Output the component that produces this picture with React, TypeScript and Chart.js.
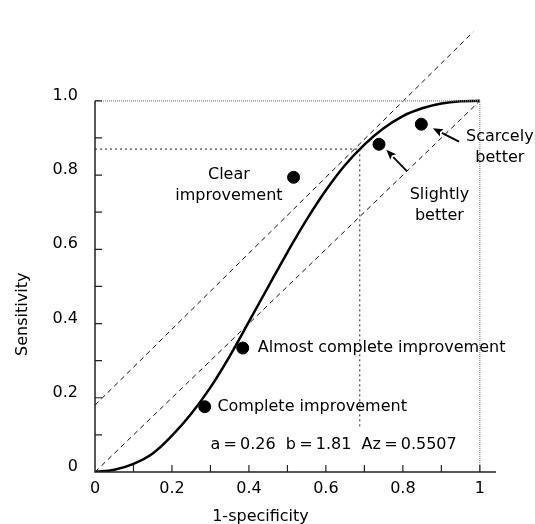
import { useEffect, useRef } from "react";
import { Chart, registerables } from "chart.js";

Chart.register(...registerables);

// ROC curve
const curveX = [0, 0.05, 0.1, 0.15, 0.2, 0.25, 0.3, 0.35, 0.4, 0.45, 0.5, 0.55, 0.6, 0.65, 0.7, 0.75, 0.8, 0.85, 0.9, 0.95, 1.0];
const curveY = [0, 0.006, 0.022, 0.05, 0.098, 0.157, 0.228, 0.312, 0.405, 0.499, 0.592, 0.68, 0.759, 0.827, 0.882, 0.926, 0.959, 0.98, 0.993, 0.999, 1.0];

// reference lines
const diagonalX = [0, 1];
const diagonalY = [0, 1];
const upperLineX = [0, 0.983];
const upperLineY = [0.18, 1.186];
const cutoffX = [0, 0.688, 0.688];
const cutoffY = [0.87, 0.87, 0.117];
const frameX = [0, 1, 1];
const frameY = [1, 1, 0];

// outcome points
const pointNames = ["Complete improvement", "Almost complete improvement", "Clear improvement", "Slightly better", "Scarcely better"];
const pointX = [0.285, 0.384, 0.516, 0.738, 0.848];
const pointY = [0.176, 0.334, 0.794, 0.883, 0.937];

// ticks
const xTicks = [0, 0.2, 0.4, 0.6, 0.8, 1];
const xTickLabels = ["0", "0.2", "0.4", "0.6", "0.8", "1"];
const yTicks = [0, 0.2, 0.4, 0.6, 0.8, 1];
const yTickLabels = ["0", "0.2", "0.4", "0.6", "0.8", "1.0"];
const minorTicks = [0.1, 0.2, 0.3, 0.4, 0.5, 0.6, 0.7, 0.8, 0.9, 1.0];

const xTitle = "1-specificity";
const yTitle = "Sensitivity";
const statsText = "a\u2009=\u20090.26  b\u2009=\u20091.81  Az\u2009=\u20090.5507";

const FONT = "DejaVu Sans";

type Note = { lines: string[]; x: number; y: number; align: CanvasTextAlign };
const notes: Note[] = [
  { lines: [pointNames[0]], x: 0.318, y: 0.176, align: "left" },
  { lines: [pointNames[1]], x: 0.423, y: 0.334, align: "left" },
  { lines: ["Clear", "improvement"], x: 0.348, y: 0.801, align: "center" },
  { lines: ["Slightly", "better"], x: 0.895, y: 0.747, align: "center" },
  { lines: ["Scarcely", "better"], x: 1.052, y: 0.903, align: "center" },
  { lines: [statsText], x: 0.3, y: 0.074, align: "left" },
];

const arrows = [
  { fromX: 0.946, fromY: 0.89, toX: 0.878, toY: 0.926 },
  { fromX: 0.811, fromY: 0.81, toX: 0.757, toY: 0.868 },
];

const toXY = (xs: number[], ys: number[]) => xs.map((x, i) => ({ x, y: ys[i] }));

const decorPlugin = {
  id: "decor",
  afterDatasetsDraw(chart: any) {
    const ctx: CanvasRenderingContext2D = chart.ctx;
    const xs = chart.scales.x;
    const ys = chart.scales.y;
    const px = (v: number) => xs.getPixelForValue(v);
    const py = (v: number) => ys.getPixelForValue(v);
    ctx.save();
    // axes
    ctx.strokeStyle = "#222";
    ctx.lineWidth = 1.5;
    ctx.setLineDash([]);
    ctx.beginPath();
    ctx.moveTo(px(0), py(1));
    ctx.lineTo(px(0), py(0));
    ctx.lineTo(xs.right, py(0));
    ctx.stroke();
    ctx.lineWidth = 1.2;
    ctx.beginPath();
    for (const t of minorTicks) {
      ctx.moveTo(px(t), py(0));
      ctx.lineTo(px(t), py(0) - 7);
      ctx.moveTo(px(0), py(t));
      ctx.lineTo(px(0) + 7, py(t));
    }
    ctx.stroke();

    // arrows
    ctx.strokeStyle = "#000";
    ctx.fillStyle = "#000";
    for (const a of arrows) {
      const x1 = px(a.fromX), y1 = py(a.fromY), x2 = px(a.toX), y2 = py(a.toY);
      const ang = Math.atan2(y2 - y1, x2 - x1);
      const len = 10, hw = 4;
      const bx = x2 - len * Math.cos(ang), by = y2 - len * Math.sin(ang);
      ctx.lineWidth = 1.8;
      ctx.beginPath();
      ctx.moveTo(x1, y1);
      ctx.lineTo(bx, by);
      ctx.stroke();
      ctx.beginPath();
      ctx.moveTo(x2, y2);
      ctx.lineTo(bx - hw * Math.sin(ang), by + hw * Math.cos(ang));
      ctx.lineTo(bx + 2 * Math.cos(ang), by + 2 * Math.sin(ang));
      ctx.lineTo(bx + hw * Math.sin(ang), by - hw * Math.cos(ang));
      ctx.closePath();
      ctx.fill();
    }

    // annotations
    ctx.font = `16px "${FONT}"`;
    ctx.textBaseline = "middle";
    for (const n of notes) {
      ctx.textAlign = n.align;
      n.lines.forEach((line, i) => ctx.fillText(line, px(n.x), py(n.y) + i * 21));
    }

    // axis titles
    ctx.textAlign = "center";
    ctx.textBaseline = "alphabetic";
    ctx.fillText(xTitle, px(0.43), 521);
    ctx.translate(27, py(0.425));
    ctx.rotate(-Math.PI / 2);
    ctx.fillText(yTitle, 0, 0);
    ctx.restore();
  },
};

export default function App() {
  const ref = useRef<HTMLCanvasElement>(null);
  useEffect(() => {
    if (!ref.current) return;
    const tickFont = { family: FONT, size: 16 };
    const chart = new Chart(ref.current, {
      type: "scatter",
      data: {
        datasets: [
          {
            data: toXY(frameX, frameY),
            showLine: true,
            borderColor: "#888",
            borderWidth: 1.2,
            borderDash: [1, 1],
            pointRadius: 0,
          },
          {
            data: toXY(cutoffX, cutoffY),
            showLine: true,
            borderColor: "#222",
            borderWidth: 1,
            borderDash: [2, 3],
            pointRadius: 0,
          },
          {
            data: toXY(diagonalX, diagonalY),
            showLine: true,
            borderColor: "#111",
            borderWidth: 1,
            borderDash: [5, 4],
            pointRadius: 0,
          },
          {
            data: toXY(upperLineX, upperLineY),
            showLine: true,
            borderColor: "#111",
            borderWidth: 1,
            borderDash: [5, 4],
            pointRadius: 0,
          },
          {
            data: toXY(curveX, curveY),
            showLine: true,
            borderColor: "#000",
            borderWidth: 2.5,
            tension: 0.4,
            pointRadius: 0,
          },
          {
            label: "Outcomes",
            data: toXY(pointX, pointY),
            showLine: false,
            backgroundColor: "#000",
            borderColor: "#000",
            pointRadius: 6,
          },
        ],
      },
      options: {
        responsive: false,
        animation: false,
        layout: { padding: { top: 10, right: 39, left: 0, bottom: 0 } },
        plugins: { legend: { display: false }, tooltip: { enabled: false } },
        scales: {
          x: {
            type: "linear",
            min: 0,
            max: 1.042,
            grid: { display: false, drawTicks: false },
            border: { display: false },
            ticks: {
              font: tickFont,
              color: "#000",
              padding: 7,
              maxRotation: 0,
              autoSkip: false,
              callback: (_v: any, i: number) => xTickLabels[i],
            },
            afterBuildTicks: (s: any) => {
              s.ticks = xTicks.map((v) => ({ value: v }));
            },
            afterFit: (s: any) => {
              s.height = 52;
            },
          },
          y: {
            type: "linear",
            min: 0,
            max: 1.2,
            grid: { display: false, drawTicks: false },
            border: { display: false },
            ticks: {
              font: tickFont,
              color: "#000",
              padding: 17,
              labelOffset: -5,
              autoSkip: false,
              callback: (_v: any, i: number) => yTickLabels[i],
            },
            afterBuildTicks: (s: any) => {
              s.ticks = yTicks.map((v) => ({ value: v }));
            },
            afterFit: (s: any) => {
              s.width = 95;
            },
          },
        },
      },
      plugins: [decorPlugin],
    } as any);
    return () => chart.destroy();
  }, []);
  return (
    <div style={{ position: "absolute", left: 0, top: 0, width: 535, height: 524, background: "#fff" }}>
      <canvas ref={ref} width={535} height={524} />
    </div>
  );
}
